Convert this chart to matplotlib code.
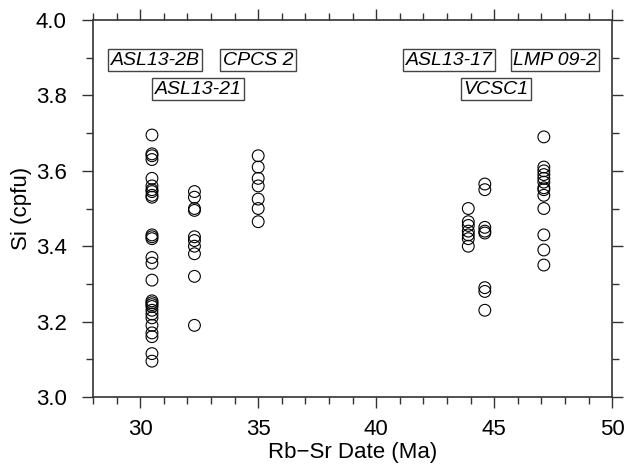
import matplotlib
matplotlib.use("Agg")
import matplotlib.pyplot as plt
from matplotlib.ticker import MultipleLocator

plt.rcParams['font.family'] = ['Liberation Sans', 'DejaVu Sans']

x_groups = [30.5, 32.3, 35.0, 43.9, 44.6, 47.1]
si_groups = [
    [3.695, 3.645, 3.64, 3.63, 3.58, 3.56, 3.55, 3.545, 3.535, 3.53, 3.43, 3.425, 3.42,
     3.37, 3.355, 3.31, 3.255, 3.25, 3.245, 3.24, 3.23, 3.22, 3.21, 3.19, 3.17, 3.16,
     3.115, 3.095],
    [3.545, 3.53, 3.50, 3.495, 3.425, 3.415, 3.40, 3.38, 3.32, 3.19],
    [3.64, 3.61, 3.58, 3.56, 3.525, 3.50, 3.465],
    [3.50, 3.465, 3.455, 3.44, 3.43, 3.42, 3.40],
    [3.565, 3.55, 3.45, 3.44, 3.435, 3.29, 3.28, 3.23],
    [3.69, 3.61, 3.60, 3.59, 3.58, 3.57, 3.555, 3.55, 3.535, 3.50, 3.43, 3.39, 3.35],
]
sample_labels = ["ASL13-2B", "CPCS 2", "ASL13-21", "ASL13-17", "LMP 09-2", "VCSC1"]
label_x = [30.63, 34.99, 32.45, 43.08, 47.58, 45.08]
label_y = [3.894, 3.894, 3.817, 3.894, 3.894, 3.817]
x_ticks = [30, 35, 40, 45, 50]
y_ticks = [3.0, 3.2, 3.4, 3.6, 3.8, 4.0]

fig = plt.figure(figsize=(6.28, 4.67), dpi=100)
ax = fig.add_axes([0.148, 0.150, 0.827, 0.807])

for xv, ys in zip(x_groups, si_groups):
    ax.scatter([xv] * len(ys), ys, s=72, facecolors='none', edgecolors='black',
               linewidths=0.8, zorder=3)

for lab, lx, ly in zip(sample_labels, label_x, label_y):
    ax.text(lx, ly, lab, ha='center', va='center', fontsize=14, style='italic',
            bbox=dict(boxstyle='square,pad=0.12', facecolor='white',
                      edgecolor='#444444', linewidth=1.0))

ax.set_xlim(28, 50)
ax.set_ylim(3.0, 4.0)
ax.set_xticks(x_ticks)
ax.set_xticklabels([str(t) for t in x_ticks])
ax.set_yticks(y_ticks)
ax.set_yticklabels([f"{t:.1f}" for t in y_ticks])
ax.xaxis.set_minor_locator(MultipleLocator(1))
ax.yaxis.set_minor_locator(MultipleLocator(0.1))

ax.tick_params(which='both', direction='out', top=True, right=True,
               color='#333333', width=1.0, labelsize=16)
ax.tick_params(which='major', length=8)
ax.tick_params(which='minor', length=5)
ax.tick_params(axis='x', which='major', pad=8)
ax.tick_params(axis='y', which='major', pad=11)
for sp in ax.spines.values():
    sp.set_color('#333333')
    sp.set_linewidth(1.2)

ax.set_xlabel("Rb\u2212Sr Date (Ma)", fontsize=16, labelpad=1)
ax.set_ylabel("Si (cpfu)", fontsize=16, labelpad=3)

fig.savefig("out.png", dpi=100)
